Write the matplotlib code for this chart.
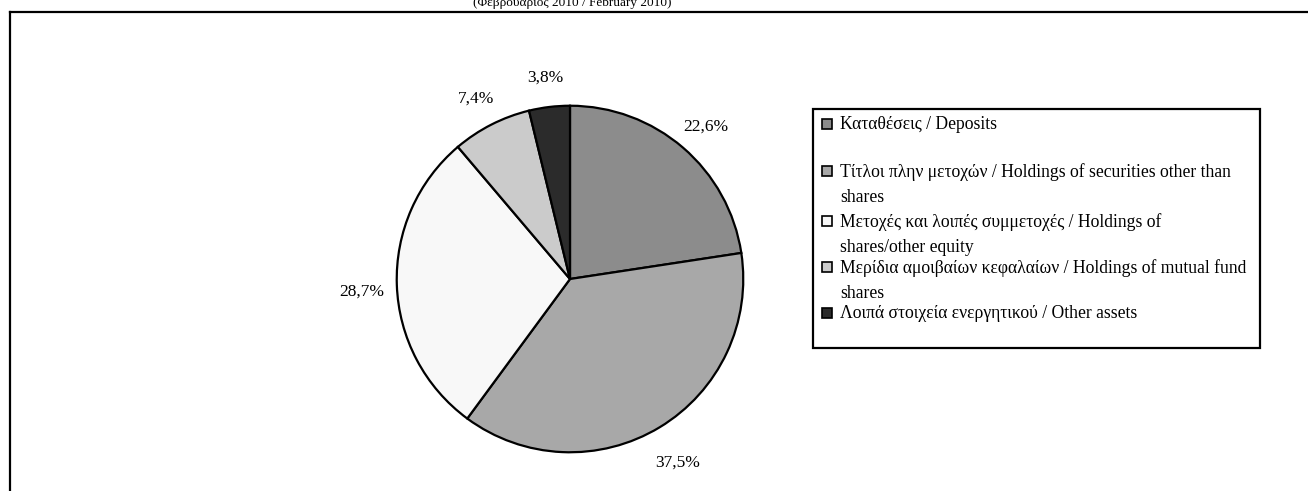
import matplotlib.pyplot as plt
from matplotlib.lines import Line2D
from matplotlib.patches import Rectangle

plt.rcParams['font.family'] = ['Liberation Serif', 'DejaVu Serif']

# Data
labels = ['Καταθέσεις / Deposits',
          'Τίτλοι πλην μετοχών / Holdings of securities other than\nshares',
          'Μετοχές και λοιπές συμμετοχές / Holdings of\nshares/other equity',
          'Μερίδια αμοιβαίων κεφαλαίων / Holdings of mutual fund\nshares',
          'Λοιπά στοιχεία ενεργητικού / Other assets']
values = [22.6, 37.5, 28.7, 7.4, 3.8]
colors = ['#8c8c8c', '#a8a8a8', '#f8f8f8', '#cbcbcb', '#2b2b2b']
title = '(Φεβρουάριος 2010 / February 2010)'

W, H = 1308, 491
fig = plt.figure(figsize=(W / 100, H / 100), dpi=100)

# pie axes: centre (570, 279), radius 175 px
cx, cy, r = 570, 279, 175
ax = fig.add_axes([(cx - r) / W, (H - cy - r) / H, 2 * r / W, 2 * r / H])
wedges, texts, autotexts = ax.pie(
    values, colors=colors, startangle=90, counterclock=False,
    wedgeprops=dict(edgecolor='black', linewidth=1.6),
    autopct=lambda p: f'{p:.1f}%'.replace('.', ','),
    pctdistance=1.2, textprops=dict(fontsize=12.5))
# nudge labels a little lower, as in the source
for t in autotexts:
    x, y = t.get_position()
    t.set_position((x, y - 0.03))
ax.set_xlim(-1.01, 1.01)
ax.set_ylim(-1.01, 1.01)

# outer frame (cropped chart area)
fig.add_artist(Line2D([9.5 / W, 1], [1 - 12 / H, 1 - 12 / H], color='black', lw=1.6))
fig.add_artist(Line2D([9.5 / W, 9.5 / W], [0, 1 - 12 / H], color='black', lw=1.6))

# title, cut off at the top
fig.text(572 / W, 1 - 6 / H, title, ha='center', va='baseline', fontsize=9.5)

# legend box
lx0, ly0, lx1, ly1 = 813, 109, 1260, 348
fig.add_artist(Rectangle((lx0 / W, 1 - ly1 / H), (lx1 - lx0) / W, (ly1 - ly0) / H,
                         transform=fig.transFigure, fill=False, edgecolor='black', lw=1.6))
entry_y = [124, 171, 221, 267, 313]
for lab, col, y in zip(labels, colors, entry_y):
    fig.add_artist(Rectangle((822 / W, 1 - (y + 5) / H), 10 / W, 10 / H,
                             transform=fig.transFigure, facecolor=col,
                             edgecolor='black', lw=1.2))
    fig.text(840 / W, 1 - (y - 8) / H, lab, ha='left', va='top', fontsize=12.7,
             linespacing=1.6)

fig.savefig('out.png', dpi=100)
